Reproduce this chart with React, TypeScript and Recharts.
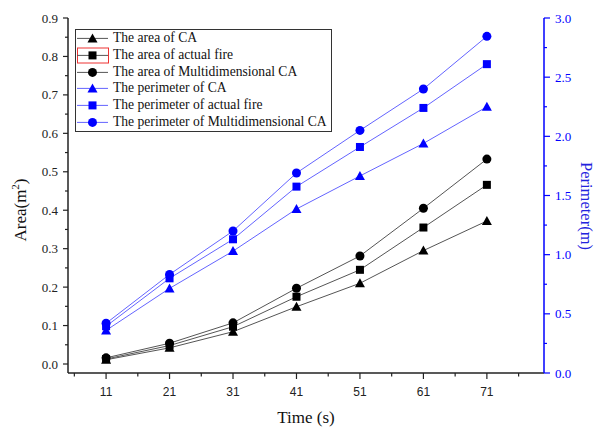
import React from "react";
import { LineChart, Line, XAxis, YAxis, Legend } from "recharts";

const times = [11, 21, 31, 41, 51, 61, 71];
const areaCA = [0.011, 0.042, 0.084, 0.149, 0.21, 0.295, 0.372];
const areaFire = [0.013, 0.048, 0.097, 0.175, 0.245, 0.355, 0.466];
const areaMulti = [0.016, 0.054, 0.107, 0.197, 0.281, 0.405, 0.533];
const perimCA = [0.36, 0.715, 1.03, 1.386, 1.665, 1.94, 2.25];
const perimFire = [0.395, 0.8, 1.13, 1.575, 1.91, 2.24, 2.61];
const perimMulti = [0.42, 0.833, 1.2, 1.69, 2.05, 2.4, 2.845];

const timeTicks = [6, 11, 16, 21, 26, 31, 36, 41, 46, 51, 56, 61, 66, 71, 76];
const majorTimeTicks = [11, 21, 31, 41, 51, 61, 71];
const areaTicks = [0, 0.05, 0.1, 0.15, 0.2, 0.25, 0.3, 0.35, 0.4, 0.45, 0.5, 0.55, 0.6, 0.65, 0.7, 0.75, 0.8, 0.85, 0.9];
const perimTicks = [0, 0.25, 0.5, 0.75, 1, 1.25, 1.5, 1.75, 2, 2.25, 2.5, 2.75, 3];

const data = times.map((t, i) => ({
  t,
  areaCA: areaCA[i],
  areaFire: areaFire[i],
  areaMulti: areaMulti[i],
  perimCA: perimCA[i],
  perimFire: perimFire[i],
  perimMulti: perimMulti[i],
}));

const serif = '"Liberation Serif", "Times New Roman", serif';
const sans = '"Liberation Sans", Arial, sans-serif';
const BLUE = "#0000ff";
const BLUE_LINE = "#6464ff";
const BLACK_LINE = "#555555";

const series = [
  { key: "areaCA", name: "The area of CA", shape: "triangle", color: "#000", line: BLACK_LINE, axis: "area" },
  { key: "areaFire", name: "The area of actual fire", shape: "square", color: "#000", line: BLACK_LINE, axis: "area" },
  { key: "areaMulti", name: "The area of Multidimensional CA", shape: "circle", color: "#000", line: BLACK_LINE, axis: "area" },
  { key: "perimCA", name: "The perimeter of CA", shape: "triangle", color: BLUE, line: BLUE_LINE, axis: "perim" },
  { key: "perimFire", name: "The perimeter of actual fire", shape: "square", color: BLUE, line: BLUE_LINE, axis: "perim" },
  { key: "perimMulti", name: "The perimeter of Multidimensional CA", shape: "circle", color: BLUE, line: BLUE_LINE, axis: "perim" },
];

function Marker({ shape, cx, cy, color }: any) {
  if (shape === "triangle")
    return <polygon points={`${cx},${cy - 5} ${cx + 5},${cy + 4} ${cx - 5},${cy + 4}`} fill={color} />;
  if (shape === "square") return <rect x={cx - 4} y={cy - 4} width={8} height={8} fill={color} />;
  return <circle cx={cx} cy={cy} r={4.5} fill={color} />;
}

const isMultiple = (v: number, step: number) => Math.abs(v / step - Math.round(v / step)) < 1e-6;

const LeftTick = ({ x, y, payload }: any) => {
  const major = isMultiple(payload.value, 0.1);
  return (
    <g>
      <line x1={x - (major ? 5 : 3)} x2={x} y1={y} y2={y} stroke="#222" strokeWidth={1.2} />
      {major && (
        <text x={x - 10} y={y} dy={4.5} textAnchor="end" fontFamily={serif} fontSize={13} fill="#222">
          {payload.value.toFixed(1)}
        </text>
      )}
    </g>
  );
};

const RightTick = ({ x, y, payload }: any) => {
  const major = isMultiple(payload.value, 0.5);
  return (
    <g>
      <line x1={x} x2={x + (major ? 6 : 3)} y1={y} y2={y} stroke={BLUE} strokeWidth={1.2} />
      {major && (
        <text x={x + 11} y={y} dy={4.5} textAnchor="start" fontFamily={serif} fontSize={13} fill={BLUE}>
          {payload.value.toFixed(1)}
        </text>
      )}
    </g>
  );
};

const BottomTick = ({ x, y, payload }: any) => {
  const major = majorTimeTicks.includes(payload.value);
  return (
    <g>
      <line x1={x} x2={x} y1={y} y2={y + (major ? 6 : 3.5)} stroke="#222" strokeWidth={1.2} />
      {major && (
        <text x={x} y={y + 23} textAnchor="middle" fontFamily={sans} fontSize={12} fill="#222">
          {payload.value}
        </text>
      )}
    </g>
  );
};

const TopTick = ({ x, y, payload }: any) => {
  const major = majorTimeTicks.includes(payload.value);
  return <line x1={x} x2={x} y1={y} y2={y + (major ? 6 : 3.5)} stroke="#222" strokeWidth={1.2} />;
};

const LegendBox = () => (
  <div
    style={{
      border: "1px solid #333",
      background: "#fff",
      width: 255,
      fontFamily: serif,
      fontSize: 13.6,
      color: "#111",
      lineHeight: "16.8px",
    }}
  >
    {series.map((s, i) => (
      <div key={s.key} style={{ display: "flex", alignItems: "center", height: 16.8 }}>
        <svg width={36} height={16.8} style={{ flex: "none" }}>
          {i === 1 && <rect x={1.5} y={1} width={31} height={15} fill="none" stroke="#ee3333" strokeWidth={1} />}
          <line x1={1} x2={32} y1={8.4} y2={8.4} stroke={s.line} strokeWidth={1} />
          <Marker shape={s.shape} cx={16.5} cy={8.4} color={s.color} />
        </svg>
        <span style={{ marginLeft: 1, whiteSpace: "nowrap" }}>{s.name}</span>
      </div>
    ))}
  </div>
);

export default function App() {
  return (
    <div style={{ position: "absolute", left: 0, top: 0, background: "#fff" }}>
      <LineChart width={596} height={428} data={data} margin={{ top: 18, right: 0, bottom: 0, left: 0 }}>
        <XAxis
          dataKey="t"
          type="number"
          domain={[5, 80]}
          ticks={timeTicks}
          interval={0}
          allowDataOverflow
          height={55}
          tickSize={0}
          tickMargin={0}
          tick={BottomTick}
          axisLine={{ stroke: "#222", strokeWidth: 1.5 }}
          label={{
            content: ({ viewBox }: any) => (
              <text
                x={viewBox.x + viewBox.width / 2}
                y={viewBox.y + 50}
                textAnchor="middle"
                fontFamily={serif}
                fontSize={17}
                fill="#111"
              >
                Time (s)
              </text>
            ),
          }}
        />
        <XAxis
          xAxisId="top"
          orientation="top"
          dataKey="t"
          type="number"
          domain={[5, 80]}
          ticks={timeTicks}
          interval={0}
          allowDataOverflow
          height={0}
          tickSize={0}
          tickMargin={0}
          tick={TopTick}
          axisLine={{ stroke: "#222", strokeWidth: 1.5 }}
        />
        <YAxis
          yAxisId="area"
          type="number"
          domain={[-0.0234, 0.9]}
          ticks={areaTicks}
          interval={0}
          allowDataOverflow
          width={68}
          tickSize={0}
          tickMargin={0}
          tick={LeftTick}
          axisLine={{ stroke: "#222", strokeWidth: 1.5 }}
          label={{
            content: ({ viewBox }: any) => {
              const cx = viewBox.x + 20;
              const cy = viewBox.y + 192;
              return (
                <text
                  x={cx}
                  y={cy}
                  textAnchor="middle"
                  transform={`rotate(-90 ${cx} ${cy})`}
                  fontFamily={serif}
                  fontSize={17}
                  fill="#111"
                  dy={6}
                >
                  Area(m<tspan fontSize={11} dy={-7}>2</tspan>
                  <tspan dy={7}>)</tspan>
                </text>
              );
            },
          }}
        />
        <YAxis
          yAxisId="perim"
          orientation="right"
          type="number"
          domain={[0, 3]}
          ticks={perimTicks}
          interval={0}
          allowDataOverflow
          width={52}
          tickSize={0}
          tickMargin={0}
          tick={RightTick}
          axisLine={{ stroke: BLUE, strokeWidth: 1.5 }}
          label={{
            content: ({ viewBox }: any) => {
              const cx = viewBox.x + 42;
              const cy = viewBox.y + 188;
              return (
                <text
                  x={cx}
                  y={cy}
                  textAnchor="middle"
                  transform={`rotate(90 ${cx} ${cy})`}
                  fontFamily={serif}
                  fontSize={16.5}
                  fill="#2222dd"
                  dy={5}
                >
                  Perimeter(m)
                </text>
              );
            },
          }}
        />
        <Legend
          layout="horizontal"
          verticalAlign="middle"
          align="center"
          content={LegendBox}
          wrapperStyle={{ left: 75, top: 29, width: 257, height: 102 }}
        />
        {series.map((s) => (
          <Line
            key={s.key}
            yAxisId={s.axis}
            dataKey={s.key}
            name={s.name}
            stroke={s.line}
            strokeWidth={1}
            isAnimationActive={false}
            dot={(p: any) => <Marker key={`${s.key}-${p.index}`} shape={s.shape} cx={p.cx} cy={p.cy} color={s.color} />}
            activeDot={false}
          />
        ))}
      </LineChart>
    </div>
  );
}
